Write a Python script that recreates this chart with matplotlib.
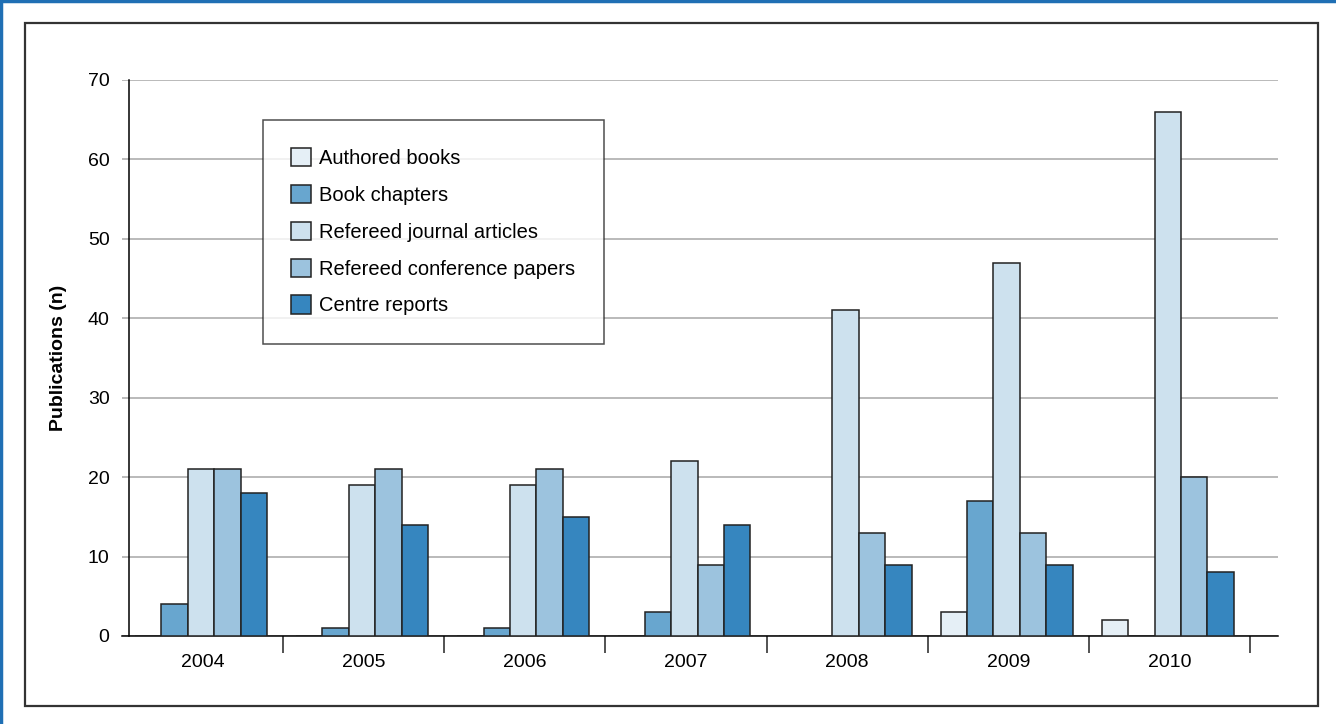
"""
Publications by type, 2004-2010, grouped bar chart.
"""

import matplotlib.pyplot as plt
import numpy as np
from matplotlib.patches import Rectangle
from matplotlib.lines import Line2D

plt.rcParams['font.family'] = ['Liberation Sans', 'DejaVu Sans']

years = ['2004', '2005', '2006', '2007', '2008', '2009', '2010']
authored_books = [0, 0, 0, 0, 0, 3, 2]
book_chapters = [4, 1, 1, 3, 0, 17, 0]
journal_articles = [21, 19, 19, 22, 41, 47, 66]
conference_papers = [21, 21, 21, 9, 13, 13, 20]
centre_reports = [18, 14, 15, 14, 9, 9, 8]

series = [
    ('Authored books', authored_books, '#e5eff6'),
    ('Book chapters', book_chapters, '#68a6cf'),
    ('Refereed journal articles', journal_articles, '#cde1ee'),
    ('Refereed conference papers', conference_papers, '#9cc3de'),
    ('Centre reports', centre_reports, '#3686bf'),
]

fig = plt.figure(figsize=(13.36, 7.24), dpi=100)
ax = fig.add_axes([122 / 1336, 1 - 636 / 724, (1278 - 122) / 1336, (636 - 80) / 724])

x = np.arange(len(years))
width = 0.164
for k, (name, vals, color) in enumerate(series):
    ax.bar(x + (k - 2) * width - 0.01, vals, width, color=color, edgecolor='#222222',
           linewidth=1.1, label=name, zorder=3)

ax.set_xlim(-0.5, 6.674)
ax.set_ylim(0, 70)
ax.set_yticks(np.arange(0, 71, 10))
ax.yaxis.grid(True, color='#b4b4b4', linewidth=1.3, zorder=0)
ax.tick_params(axis='y', length=0, pad=14, labelsize=14)

# year labels sit between the boundary ticks
ax.set_xticks(np.arange(0.5, 7, 1))
ax.set_xticklabels([])
ax.set_xticks(x, minor=True)
ax.set_xticklabels(years, minor=True)
ax.tick_params(axis='x', which='major', length=12, width=1.3, color='#444444', direction='out')
ax.tick_params(axis='x', which='minor', length=0, pad=13, labelsize=14)

for side in ['top', 'right']:
    ax.spines[side].set_visible(False)
ax.spines['left'].set_position(('data', -0.457))
ax.spines['left'].set_linewidth(1.1)
ax.spines['bottom'].set_linewidth(1.1)
ax.set_ylabel('Publications (n)', fontsize=14, fontweight='bold', labelpad=15)

leg = ax.legend(loc='upper left', bbox_to_anchor=((263 - 122) / 1156, (636 - 120) / 556),
                fontsize=14.5, frameon=True, fancybox=False, edgecolor='#222222',
                handlelength=1.0, handleheight=1.0, handletextpad=0.4,
                labelspacing=0.84, borderpad=1.4, borderaxespad=0)
leg.get_frame().set_linewidth(1.1)
leg.set_zorder(5)

# outer frame and page edge
fig.patches.append(Rectangle((25 / 1336, 1 - 706 / 724), (1318 - 25) / 1336, (706 - 23) / 724,
                             transform=fig.transFigure, fill=False, edgecolor='#333333',
                             linewidth=1.6))
fig.lines.append(Line2D([0, 1], [1 - 1 / 724, 1 - 1 / 724], transform=fig.transFigure,
                        color='#1f6fb4', linewidth=2.5))
fig.lines.append(Line2D([1 / 1336, 1 / 1336], [0, 1], transform=fig.transFigure,
                        color='#1f6fb4', linewidth=2.5))

fig.savefig('out.png', dpi=100)
